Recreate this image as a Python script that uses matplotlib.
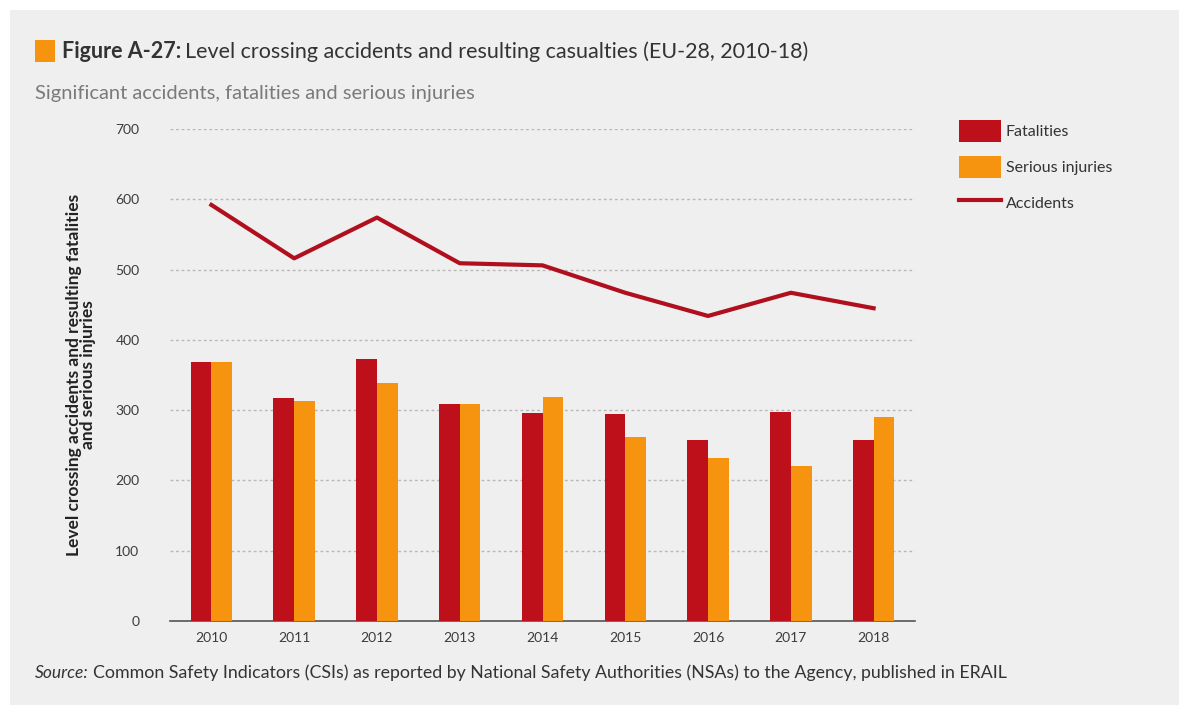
import matplotlib
matplotlib.use("Agg")
import numpy as np
from matplotlib import pyplot as plt
from matplotlib.patches import Patch, Rectangle
from matplotlib.lines import Line2D

plt.rcParams["font.family"] = ["Lato", "DejaVu Sans"]

years = ["2010", "2011", "2012", "2013", "2014", "2015", "2016", "2017", "2018"]
fatalities = [368, 317, 373, 309, 296, 294, 257, 297, 257]
serious_injuries = [368, 313, 339, 309, 319, 262, 232, 220, 290]
accidents = [592, 516, 574, 509, 506, 467, 434, 467, 445]
yticks = [0, 100, 200, 300, 400, 500, 600, 700]

red = "#bd101a"
orange = "#f7940f"
line_red = "#b0101e"
bg = "#efefef"
text_col = "#3c3c3c"

W, H = 1189, 715
fig = plt.figure(figsize=(W / 100, H / 100), dpi=100, facecolor="white")
fig.patches.append(Rectangle((10 / W, 10 / H), 1 - 20 / W, 1 - 20 / H,
                             transform=fig.transFigure, facecolor=bg,
                             edgecolor="none", zorder=-10))

ax = fig.add_axes([170 / W, 1 - 621 / H, 745 / W, 492 / H])
ax.set_facecolor(bg)

x = np.arange(len(years))
w = 0.25
ax.bar(x - w / 2, fatalities, w, color=red, zorder=3)
ax.bar(x + w / 2, serious_injuries, w, color=orange, zorder=3)
ax.plot(x, accidents, color=line_red, lw=3, zorder=4)

ax.set_xlim(-0.5, len(years) - 0.5)
ax.set_ylim(0, 700)
ax.set_yticks(yticks)
ax.set_xticks(x)
ax.set_xticklabels(years)
ax.tick_params(length=0, labelsize=10, colors=text_col, pad=8)
ax.tick_params(axis="y", pad=22)
for s in ["top", "right", "left"]:
    ax.spines[s].set_visible(False)
ax.spines["bottom"].set_color("#555555")
ax.spines["bottom"].set_linewidth(1.2)
for t in yticks[1:]:
    ax.axhline(t, color="#b8b8b8", lw=1, ls=(0, (2, 2)), zorder=1)

ax.set_ylabel("Level crossing accidents and resulting fatalities\nand serious injuries",
              fontsize=12.5, fontweight="bold", color="#222222", labelpad=14,
              linespacing=0.85)

# title with orange square
fig.patches.append(Rectangle((35 / W, 1 - 62 / H), 20 / W, 22 / H,
                             transform=fig.transFigure, facecolor=orange,
                             edgecolor="none"))
t1 = fig.text(62 / W, 1 - 52 / H, "Figure A-27:", fontsize=15.5, fontweight="bold",
              color="#333333", va="center")
fig.canvas.draw()
bb = t1.get_window_extent()
fig.text(bb.x1 / W + 4 / W, 1 - 52 / H,
         "Level crossing accidents and resulting casualties (EU-28, 2010-18)",
         fontsize=15.5, color="#333333", va="center")
fig.text(35 / W, 1 - 93 / H, "Significant accidents, fatalities and serious injuries",
         fontsize=14.5, color="#7a7a7a", va="center")

# source
s1 = fig.text(35 / W, 1 - 673 / H, "Source:", fontsize=12.5, style="italic",
              color="#333333", va="center")
fig.canvas.draw()
bb = s1.get_window_extent()
fig.text(bb.x1 / W + 4 / W, 1 - 673 / H,
         "Common Safety Indicators (CSIs) as reported by National Safety Authorities (NSAs) to the Agency, published in ERAIL",
         fontsize=12.8, color="#333333", va="center")

handles = [Patch(facecolor=red), Patch(facecolor=orange),
           Line2D([0], [0], color=line_red, lw=3)]
labels = ["Fatalities", "Serious injuries", "Accidents"]
fig.legend(handles, labels, loc="upper left", bbox_to_anchor=(945 / W, 1 - 106 / H),
           frameon=False, fontsize=11.5, labelcolor="#333333",
           handlelength=2.6, handleheight=1.7, labelspacing=0.9, handletextpad=0.3)

fig.savefig("out.png", dpi=100, facecolor="white")
